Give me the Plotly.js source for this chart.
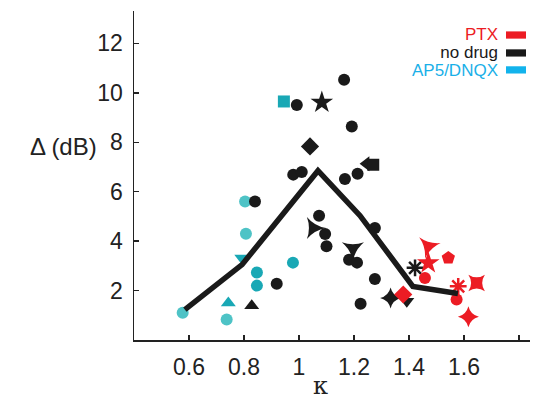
<!DOCTYPE html>
<html>
<head>
<meta charset="utf-8">
<script src="https://cdn.plot.ly/plotly-3.0.1.min.js"></script>
<style>html,body{margin:0;padding:0;background:#fff;}#chart{width:544px;height:403px;}</style>
</head>
<body>
<div id="chart"></div>
<script>
// Mean curve
const meanKappa = [0.585, 0.793, 1.069, 1.222, 1.414, 1.578];
const meanDelta = [1.23, 3.05, 6.85, 5.03, 2.17, 1.88];

// AP5/DNQX cells
const ap5Kappa = [0.577, 0.737, 0.743, 0.792, 0.847, 0.847, 0.978, 0.807, 0.804, 0.945];
const ap5Delta = [1.10, 0.83, 1.50, 3.32, 2.73, 2.20, 3.13, 4.30, 5.60, 9.65];
const ap5Symbols = ['circle','circle','triangle-up','triangle-down','circle','circle','circle','circle','circle','square'];

// no drug cells
const ndKappa = [0.992, 1.083, 1.164, 1.192, 1.040, 0.979, 1.010, 1.167, 1.213, 1.244, 1.270,
                 1.276, 1.073, 1.052, 1.095, 1.100, 1.196, 1.182, 1.211, 1.276, 1.224, 1.333,
                 1.392, 1.422, 0.840, 0.828, 0.919];
const ndDelta = [9.51, 9.61, 10.53, 8.64, 7.83, 6.69, 6.80, 6.51, 6.73, 7.13, 7.09,
                 4.53, 5.03, 4.53, 4.29, 3.79, 3.70, 3.25, 3.13, 2.47, 1.47, 1.70,
                 1.57, 2.92, 5.60, 1.39, 2.28];
const ndSymbols = ['circle','star','circle','circle','diamond','circle','circle','circle','circle','triangle-left','square',
                   'circle','circle','star-triangle-up','circle','circle','star-triangle-down','circle','circle','circle','circle','star-diamond',
                   'triangle-down','asterisk-open','circle','triangle-up','circle'];

// PTX cells
const ptxKappa = [1.379, 1.470, 1.470, 1.458, 1.543, 1.579, 1.573, 1.646, 1.616];
const ptxDelta = [1.84, 3.79, 3.12, 2.51, 3.32, 2.17, 1.64, 2.31, 0.94];
const ptxSymbols = ['diamond','star-triangle-up','star','circle','pentagon','asterisk-open','circle','star-square','star-diamond'];

const xTicks = [0.6, 0.8, 1.0, 1.2, 1.4, 1.6, 1.8];
const xTickText = ['0.6', '0.8', '1', '1.2', '1.4', '1.6', ''];
const yTicks = [2, 4, 6, 8, 10, 12];

const legendNames = ['PTX', 'no drug', 'AP5/DNQX'];

const RED = '#EC1C24', BLACK = '#1A1A1A', TEAL = '#19A8B5', LTEAL = '#4EC3C6';

function sizes(syms){ return syms.map(s => s==='circle'?12 : s==='square'?12 : s==='diamond'?14 : s.startsWith('star-triangle')?16 : s==='star'?17 : s.startsWith('star-')?15 : s==='asterisk-open'?14 : s==='pentagon'?14 : 13); }
function lw(syms){ return syms.map(s => s==='asterisk-open'?2.5:0); }
function angles(syms, base){ return syms.map(s => s==='star-triangle-up'?base:0); }

const ap5Colors = ap5Symbols.map((s,i)=> (i===0||i===1||i===7||i===8) ? LTEAL : TEAL);

const traces = [
  {x: ap5Kappa, y: ap5Delta, mode:'markers', type:'scatter', hoverinfo:'skip',
   marker:{symbol: ap5Symbols, color: ap5Colors, opacity:1, size: sizes(ap5Symbols), line:{width:0}}},
  {x: ndKappa, y: ndDelta, mode:'markers', type:'scatter', hoverinfo:'skip',
   marker:{symbol: ndSymbols, color: BLACK, opacity:1, size: sizes(ndSymbols), angle: angles(ndSymbols,90), line:{width: lw(ndSymbols), color: BLACK}}},
  {x: ptxKappa, y: ptxDelta, mode:'markers', type:'scatter', hoverinfo:'skip',
   marker:{symbol: ptxSymbols, color: RED, opacity:1, size: sizes(ptxSymbols), angle: angles(ptxSymbols,75), line:{width: lw(ptxSymbols), color: RED}}},
  {x: meanKappa, y: meanDelta, mode:'lines', type:'scatter', hoverinfo:'skip',
   line:{color: BLACK, width: 5.5}}
];

const legColors = [RED, BLACK, '#1AB0E8'];
const legY = [0.927, 0.8725, 0.821];
const legText = legendNames.map((n,i)=>'<span style="color:'+legColors[i]+';font-size:17px">'+n+'</span>').join('<br>');
const annotations = [{
  text: legText, xref:'paper', yref:'paper', x: 0.922, y: legY[1], xanchor:'right', yanchor:'middle', align:'right',
  showarrow:false, borderpad:0, font:{family:'Liberation Sans, Arial, sans-serif', size:13.8, color:BLACK}
}];
annotations.push({text:'\u0394 (dB)', xref:'paper', yref:'paper', x:-0.179, y:0.587, xanchor:'center', yanchor:'middle', showarrow:false,
  font:{family:'Liberation Sans, Arial, sans-serif', size:24, color:'#222'}});
annotations.push({text:'\u03ba', xref:'paper', yref:'paper', x:0.47, y:-0.14, xanchor:'center', yanchor:'middle', showarrow:false,
  font:{family:'DejaVu Serif, serif', size:24, color:'#222'}});

const shapes = legendNames.map((n,i)=>({
  type:'rect', xref:'paper', yref:'paper', x0:0.9394, x1:0.9899, y0: legY[i]-0.011, y1: legY[i]+0.011,
  fillcolor: ['#EC1C24','#1A1A1A','#12B3EC'][i], line:{width:0}
}));

const layout = {
  width:544, height:403, margin:{l:134, r:14, t:11, b:62.5},
  paper_bgcolor:'#fff', plot_bgcolor:'#fff', showlegend:false,
  font:{family:'Liberation Sans, Arial, sans-serif', size:23, color:'#222'},
  xaxis:{range:[0.4, 1.84], tickvals:xTicks, ticktext:xTickText, ticks:'inside', ticklen:5, tickwidth:1.5, tickcolor:'#222',
         showline:true, linecolor:'#222', linewidth:1.5, showgrid:false, zeroline:false, ticklabelstandoff:6},
  yaxis:{range:[0, 13.31], tickvals:yTicks, ticks:'inside', ticklen:5, tickwidth:1.5, tickcolor:'#222',
         showline:true, linecolor:'#222', linewidth:1.5, showgrid:false, zeroline:false, ticklabelstandoff:5},
  annotations: annotations, shapes: shapes
};

Plotly.newPlot('chart', traces, layout, {staticPlot:true});
</script>
</body>
</html>
